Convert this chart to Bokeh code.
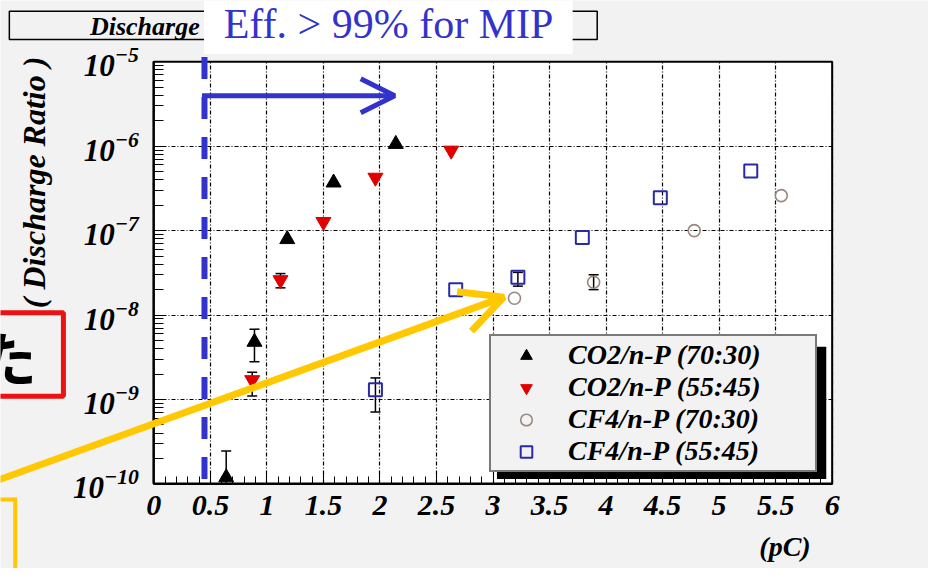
import math
from bokeh.plotting import figure
from bokeh.models import (Legend, LegendItem, Label, BoxAnnotation, Arrow, OpenHead,
                          SingleIntervalTicker, LogTicker)
from bokeh.embed import file_html
from bokeh.resources import INLINE

# ---------------- data ----------------
x_ticks = [0, 0.5, 1, 1.5, 2, 2.5, 3, 3.5, 4, 4.5, 5, 5.5, 6]
x_tick_labels = ["0", "0.5", "1", "1.5", "2", "2.5", "3", "3.5", "4", "4.5", "5", "5.5", "6"]
x_bounds = (0, 6)
y_bounds = (1e-10, 1e-5)

series_names = ["CO2/n-P (70:30)", "CO2/n-P (55:45)", "CF4/n-P (70:30)", "CF4/n-P (55:45)"]

co2_7030_x = [0.64, 0.89, 1.18, 1.59, 2.14]
co2_7030_y = [1.19e-10, 4.8e-9, 7.9e-8, 3.7e-7, 1.06e-6]
co2_7030_err_x = [0.64, 0.89]
co2_7030_err_lo = [8e-11, 2.8e-9]
co2_7030_err_hi = [2.45e-10, 6.8e-9]

co2_5545_x = [0.87, 1.12, 1.50, 1.96, 2.63]
co2_5545_y = [1.7e-9, 2.6e-8, 1.27e-7, 4.25e-7, 8.9e-7]
co2_5545_err_x = [0.87, 1.12]
co2_5545_err_lo = [1.1e-9, 2.1e-8]
co2_5545_err_hi = [2.1e-9, 3.1e-8]

cf4_7030_x = [3.19, 3.89, 4.78, 5.55]
cf4_7030_y = [1.58e-8, 2.45e-8, 1.0e-7, 2.6e-7]
cf4_7030_err_x = [3.89]
cf4_7030_err_lo = [2.0e-8]
cf4_7030_err_hi = [3.0e-8]

cf4_5545_x = [1.96, 2.67, 3.22, 3.79, 4.48, 5.28]
cf4_5545_y = [1.3e-9, 2.0e-8, 2.8e-8, 8.3e-8, 2.45e-7, 5.1e-7]
cf4_5545_err_x = [1.96, 3.22]
cf4_5545_err_lo = [7.1e-10, 2.2e-8]
cf4_5545_err_hi = [1.8e-9, 3.2e-8]

# ---------------- slide-pixel -> data helpers (for the slide overlays) ----------------
FX0, PPX, FYB, PPD = 156.0, 115.0, 497.0, 86.8
def dx(px):
    return (px - FX0) / PPX
def dy(py):
    return 10 ** (-10 + (FYB - py) / PPD)

SERIF = "Liberation Serif"
BG = "#f2f2f2"
W, H = 928, 568

# the frame spans the whole canvas; the ROOT pad is drawn with fixed-location axes
p = figure(width=W, height=H, x_range=(dx(0), dx(944)), y_range=(dy(584), dy(0)),
           y_axis_type="log", min_border=0, min_border_left=0, min_border_right=0,
           min_border_top=0, min_border_bottom=0,
           output_backend="svg", toolbar_location=None)
p.border_fill_color = BG
p.background_fill_color = BG
p.outline_line_color = None

# white pad area
p.add_layout(BoxAnnotation(left=x_bounds[0], right=x_bounds[1], bottom=y_bounds[0], top=y_bounds[1],
                           fill_color="white", fill_alpha=1, line_alpha=0, level="image"))

# axes
xa = p.xaxis[0]
ya = p.yaxis[0]
xa.fixed_location = y_bounds[0]
ya.fixed_location = x_bounds[0]
xa.bounds = x_bounds
ya.bounds = y_bounds
xa.ticker = SingleIntervalTicker(interval=0.5, num_minor_ticks=5)
xa.major_label_overrides = {t: l for t, l in zip(x_ticks, x_tick_labels)}
ya.ticker = LogTicker(num_minor_ticks=10)
for ax in (xa, ya):
    ax.axis_line_color = "black"
    ax.axis_line_width = 2
    ax.major_tick_line_color = "black"
    ax.minor_tick_line_color = "black"
    ax.major_tick_out = 0
    ax.minor_tick_out = 0
    ax.major_label_text_font = SERIF
    ax.major_label_text_font_style = "bold italic"
    ax.major_label_text_color = "black"
xa.major_label_text_font_size = "30px"
ya.major_label_text_font_size = "31px"
xa.major_tick_in = 12
xa.minor_tick_in = 7
xa.major_label_standoff = 12
ya.major_tick_in = 12
ya.minor_tick_in = 10
ya.major_label_standoff = 15

xg = p.xgrid[0]
yg = p.ygrid[0]
xg.bounds = x_bounds
yg.bounds = y_bounds
xg.cross_bounds = y_bounds
yg.cross_bounds = x_bounds
for g in (xg, yg):
    g.grid_line_color = "black"
    g.grid_line_width = 1.2
    g.grid_line_dash = "4 2 1 2"

# ---------------- error bars + markers ----------------
def err(xs, lo, hi, color):
    p.segment(x0=xs, y0=lo, x1=xs, y1=hi, line_color=color, line_width=1.5)
    p.scatter(x=xs + xs, y=lo + hi, marker="dash", size=10, line_color=color, line_width=1.5)

err(co2_7030_err_x, [max(v, y_bounds[0]) for v in co2_7030_err_lo], co2_7030_err_hi, "black")
err(co2_5545_err_x, co2_5545_err_lo, co2_5545_err_hi, "black")
err(cf4_7030_err_x, cf4_7030_err_lo, cf4_7030_err_hi, "black")
err(cf4_5545_err_x, cf4_5545_err_lo, cf4_5545_err_hi, "black")

r1 = p.scatter(co2_7030_x, co2_7030_y, marker="triangle", size=15,
               fill_color="black", line_color="black")
r2 = p.scatter(co2_5545_x, co2_5545_y, marker="inverted_triangle", size=15,
               fill_color="#e00000", line_color="#e00000")
r3 = p.scatter(cf4_7030_x, cf4_7030_y, marker="circle", size=12,
               fill_color=None, line_color="#9a8780", line_width=1.6)
r4 = p.scatter(cf4_5545_x, cf4_5545_y, marker="square", size=13,
               fill_color=None, line_color="#2a2aa8", line_width=2)

# pad frame
p.add_layout(BoxAnnotation(left=x_bounds[0], right=x_bounds[1], bottom=y_bounds[0], top=y_bounds[1],
                           fill_alpha=0, line_color="black", line_alpha=1, line_width=2))

# legend shadow + legend
p.add_layout(BoxAnnotation(left=dx(505), right=dx(840), top=dy(356), bottom=dy(492),
                           fill_color="black", fill_alpha=1, line_alpha=0))
legend = Legend(items=[LegendItem(label=series_names[0], renderers=[r1]),
                       LegendItem(label=series_names[1], renderers=[r2]),
                       LegendItem(label=series_names[2], renderers=[r3]),
                       LegendItem(label=series_names[3], renderers=[r4])],
                location=(489, 96), orientation="vertical",
                background_fill_color=BG, background_fill_alpha=1,
                border_line_color="black", border_line_width=2,
                label_text_font=SERIF, label_text_font_style="bold italic",
                label_text_font_size="28px", label_text_color="black",
                glyph_width=64, glyph_height=29, label_height=29, label_width=244,
                label_standoff=10, spacing=0, padding=3, margin=0)
p.add_layout(legend)

# y axis title and x axis title
p.add_layout(Label(x=dx(34), y=dy(187), text="( Discharge Ratio )", angle=math.pi / 2,
                   text_align="center", text_baseline="middle",
                   text_font=SERIF, text_font_style="bold italic", text_font_size="32px",
                   text_color="black"))
p.add_layout(Label(x=dx(798), y=dy(561), text="(pC)", text_align="center",
                   text_baseline="middle", text_font=SERIF, text_font_style="bold italic",
                   text_font_size="28px", text_color="black"))

# title pave (partly covered)
p.add_layout(BoxAnnotation(left=dx(9), right=dx(607), top=dy(11), bottom=dy(40),
                           fill_alpha=0, line_color="black", line_alpha=1, line_width=1.5))
p.add_layout(Label(x=dx(91), y=dy(27), text="Discharge Ratio", text_baseline="middle",
                   text_font=SERIF, text_font_style="bold italic", text_font_size="26px",
                   text_color="black"))
p.add_layout(BoxAnnotation(left=dx(207), right=dx(582), top=dy(0), bottom=dy(55),
                           fill_color="white", fill_alpha=1, line_alpha=0))
p.add_layout(Label(x=dx(227), y=dy(24), text="Eff. > 99% for MIP", text_baseline="middle",
                   text_font=SERIF, text_font_size="42px", text_color="#3333cc"))

# blue dashed threshold line and arrow
p.add_layout(Arrow(x_start=dx(207.5), y_start=dy(58), x_end=dx(207.5), y_end=dy(500),
                   end=None, line_color="#3333cc", line_width=6, line_dash="22 18"))
p.add_layout(Arrow(x_start=dx(205), y_start=dy(98), x_end=dx(401), y_end=dy(98),
                   end=OpenHead(size=34, line_color="#3333cc", line_width=5),
                   line_color="#3333cc", line_width=5))

# yellow arrow
p.add_layout(Arrow(x_start=dx(-5), y_start=dy(494), x_end=dx(512), y_end=dy(305),
                   end=OpenHead(size=42, line_color="#ffc800", line_width=7),
                   line_color="#ffc800", line_width=7))
# yellow box corner
p.add_layout(Arrow(x_start=dx(-5), y_start=dy(513), x_end=dx(15), y_end=dy(513), end=None,
                   line_color="#ffc800", line_width=4))
p.add_layout(Arrow(x_start=dx(15), y_start=dy(511), x_end=dx(15), y_end=dy(600), end=None,
                   line_color="#ffc800", line_width=4))

# red box with partial Japanese text
p.add_layout(BoxAnnotation(left=dx(-20), right=dx(64), top=dy(321), bottom=dy(407),
                           fill_alpha=0, line_color="#ee1111", line_alpha=1, line_width=5))
p.add_layout(Label(x=dx(37), y=dy(366), text="た", text_align="right", text_baseline="middle",
                   text_font="Noto Sans CJK JP", text_font_style="bold",
                   text_font_size="58px", text_color="black"))

open("out.html", "w").write(file_html(p, INLINE))
